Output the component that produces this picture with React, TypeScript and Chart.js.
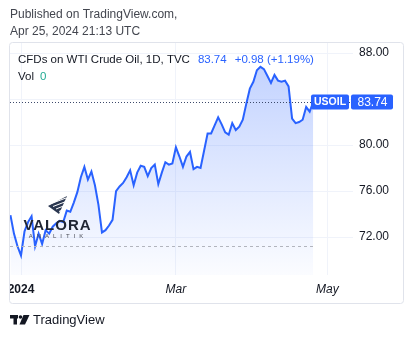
import React, { useEffect, useRef } from "react";
import { Chart, registerables } from "chart.js";
Chart.register(...registerables);

// ---- data ----
const startDate = "2023-12-27"; // first trading day shown
const closes = [
  73.9, 72.3, 71.2, 70.4, 72.5, 73.3, 73.8, 71.2, 72.3, 71.4,
  72.6, 72.3, 72.9, 73.2, 73.4, 73.3, 74.3, 74.2, 75.0, 75.9,
  77.2, 78.1, 77.0, 77.7, 76.5, 74.8, 72.4, 72.6, 73.0, 73.5,
  76.0, 76.4, 76.7, 77.2, 77.8, 76.5, 77.6, 78.2, 78.1, 77.3,
  78.0, 78.3, 76.6, 77.6, 78.5, 78.3, 78.4, 79.8, 79.0, 78.1,
  79.0, 79.4, 77.9, 78.1, 78.0, 79.5, 81.0, 81.0, 81.7, 82.4,
  81.8, 81.1, 80.9, 81.9, 81.3, 81.6, 82.2, 83.6, 84.9, 85.5,
  86.5, 86.8, 86.6, 86.0, 85.4, 86.1, 85.6, 85.5, 85.6, 85.1,
  82.3, 81.9, 82.0, 82.2, 83.3, 82.9, 83.74,
];
const tickDates = ["2024-01-01", "2024-03-01", "2024-05-01"];
const tickLabels = ["2024", "Mar", "May"];
const priceTicks = [72, 76, 80, 84, 88];
const hiddenPriceTick = 84; // covered by last-price label
const lastPrice = 83.74;
const changeText = "+0.98 (+1.19%)";
const refLevel = 71.2;
const symbol = "USOIL";
const title = "CFDs on WTI Crude Oil, 1D, TVC";
const published = ["Published on TradingView.com,", "Apr 25, 2024 21:13 UTC"];
const volLabel = "Vol";
const volValue = "0";
const slotCount = 98; // trading-day slots on the time axis

function weekdayList(start: string, n: number): string[] {
  const out: string[] = [];
  const d = new Date(start + "T00:00:00Z");
  while (out.length < n) {
    const wd = d.getUTCDay();
    if (wd !== 0 && wd !== 6) out.push(d.toISOString().slice(0, 10));
    d.setUTCDate(d.getUTCDate() + 1);
  }
  return out;
}
const dates = weekdayList(startDate, slotCount);
const tickIdx = tickDates.map((t) => dates.indexOf(t));

const FONT = "'Liberation Sans', Arial, sans-serif";
const BLUE = "#2962ff";
const TEXT = "#131722";

export default function App() {
  const ref = useRef<HTMLCanvasElement | null>(null);
  useEffect(() => {
    document.body.style.margin = "0";
    const canvas = ref.current!;
    const decor = {
      id: "decor",
      beforeDraw(chart: any) {
        const c = chart.ctx;
        c.save();
        c.fillStyle = "#ffffff";
        c.fillRect(0, 0, chart.width, chart.height);
        c.fillStyle = "#43464f";
        c.font = `12px ${FONT}`;
        c.textBaseline = "middle";
        c.fillText(published[0], 10, 15);
        c.fillText(published[1], 10, 32);
        c.restore();
      },
      afterDatasetsDraw(chart: any) {
        const c = chart.ctx;
        const xs = chart.scales.x;
        const ys = chart.scales.y;
        const area = chart.chartArea;
        const lastX = xs.getPixelForValue(closes.length - 1);
        c.save();
        // reference dashed line
        const ry = Math.round(ys.getPixelForValue(refLevel)) + 0.5;
        c.strokeStyle = "#b2b5be";
        c.lineWidth = 1;
        c.setLineDash([3, 3]);
        c.beginPath();
        c.moveTo(area.left, ry);
        c.lineTo(lastX + 2, ry);
        c.stroke();
        // last price dotted line
        const py = Math.round(ys.getPixelForValue(lastPrice)) + 0.5;
        c.strokeStyle = "#3d4a6b";
        c.setLineDash([1, 2]);
        c.beginPath();
        c.moveTo(area.left, py);
        c.lineTo(area.right, py);
        c.stroke();
        c.setLineDash([]);

        // watermark logo
        c.fillStyle = "#2b3750";
        c.beginPath();
        c.moveTo(48, 206);
        c.lineTo(67, 196);
        c.lineTo(59, 214);
        c.closePath();
        c.fill();
        c.strokeStyle = "#ffffff";
        c.lineWidth = 1;
        for (let k = 0; k < 4; k++) {
          c.beginPath();
          c.moveTo(50 + k * 3, 204 + k * 2.5);
          c.lineTo(66, 198 + k * 3.5);
          c.stroke();
        }
        c.fillStyle = "#1f2533";
        c.font = `bold 15px ${FONT}`;
        c.textAlign = "center";
        c.textBaseline = "middle";
        (c as any).letterSpacing = "1px";
        c.fillText("VALORA", 57.5, 226);
        c.font = `6px ${FONT}`;
        (c as any).letterSpacing = "4px";
        c.fillStyle = "#4a4d57";
        c.fillText("ANALITIK", 58, 236.5);
        (c as any).letterSpacing = "0px";
        c.restore();
      },
      afterDraw(chart: any) {
        const c = chart.ctx;
        const ys = chart.scales.y;
        const area = chart.chartArea;
        c.save();
        // mask outside the frame
        c.fillStyle = "#ffffff";
        c.fillRect(0, 42, 9, 262);
        // frame
        c.strokeStyle = "#e0e3eb";
        c.lineWidth = 1;
        c.beginPath();
        (c as any).roundRect(9.5, 42.5, 394, 261, 3);
        c.stroke();

        // last price labels
        const py = ys.getPixelForValue(lastPrice);
        c.fillStyle = BLUE;
        c.beginPath();
        (c as any).roundRect(311, py - 7.5, 38, 15, 2);
        c.fill();
        c.beginPath();
        (c as any).roundRect(351, py - 7.5, 42, 15, 2);
        c.fill();
        c.fillStyle = "#ffffff";
        c.textBaseline = "middle";
        c.textAlign = "center";
        c.font = `bold 10.5px ${FONT}`;
        c.fillText(symbol, 330, py + 0.5);
        c.font = `12px ${FONT}`;
        c.fillText(lastPrice.toFixed(2), 372.5, py + 0.5);

        // legend
        c.textAlign = "left";
        c.font = `11.5px ${FONT}`;
        c.fillStyle = TEXT;
        c.fillText(title, 18, 60);
        let x = 18 + c.measureText(title).width + 8;
        c.fillStyle = BLUE;
        const pTxt = lastPrice.toFixed(2);
        c.fillText(pTxt, x, 60);
        x += c.measureText(pTxt).width + 8;
        c.fillText(changeText, x, 60);
        c.fillStyle = TEXT;
        c.fillText(volLabel, 18, 77);
        c.fillStyle = "#22ab94";
        c.fillText(volValue, 18 + c.measureText(volLabel).width + 6, 77);

        // bottom TradingView logo
        c.fillStyle = TEXT;
        c.fillRect(10, 315, 8, 3.5);
        c.fillRect(13.5, 315, 3.5, 9.5);
        c.beginPath();
        c.arc(20.5, 317, 1.8, 0, Math.PI * 2);
        c.fill();
        c.beginPath();
        c.moveTo(23.5, 315);
        c.lineTo(29.5, 315);
        c.lineTo(25, 324.5);
        c.lineTo(19.5, 324.5);
        c.closePath();
        c.fill();
        c.font = `13px ${FONT}`;
        c.fillText("TradingView", 33, 320.5);
        c.restore();
      },
    };

    const chart = new Chart(canvas, {
      type: "line",
      data: {
        datasets: [
          {
            data: closes.map((v, i) => ({ x: i, y: v })),
            borderColor: BLUE,
            borderWidth: 2,
            pointRadius: 0,
            tension: 0,
            fill: "start",
            backgroundColor: (ctx: any) => {
              const ch = ctx.chart;
              const a = ch.chartArea;
              if (!a) return "rgba(41,98,255,0.15)";
              const top = ch.scales.y.getPixelForValue(Math.max(...closes));
              const g = ch.ctx.createLinearGradient(0, top, 0, a.bottom);
              g.addColorStop(0, "rgba(41,98,255,0.28)");
              g.addColorStop(1, "rgba(41,98,255,0.02)");
              return g;
            },
          },
        ],
      },
      options: {
        responsive: false,
        animation: false,
        devicePixelRatio: 1,
        layout: { padding: { left: 10, top: 43, right: 10, bottom: 35 } },
        plugins: { legend: { display: false }, tooltip: { enabled: false } },
        scales: {
          x: {
            type: "linear",
            min: -0.125,
            max: 97.3,
            afterBuildTicks: (s: any) => {
              s.ticks = tickIdx.map((v) => ({ value: v }));
            },
            afterFit: (s: any) => {
              s.height = 28;
            },
            grid: { color: "#f0f3fa", drawTicks: false },
            border: { display: false },
            ticks: {
              padding: 7,
              color: TEXT,
              maxRotation: 0,
              autoSkip: false,
              font: (ctx: any) =>
                ctx.tick && ctx.tick.value === tickIdx[0]
                  ? { family: FONT, size: 12, weight: "bold" }
                  : { family: FONT, size: 12, style: "italic" },
              callback: (v: any) => {
                const k = tickIdx.indexOf(Number(v));
                return k >= 0 ? tickLabels[k] : "";
              },
            },
          },
          y: {
            position: "right",
            min: 68.7,
            max: 88.87,
            afterBuildTicks: (s: any) => {
              s.ticks = priceTicks.map((v) => ({ value: v }));
            },
            afterFit: (s: any) => {
              s.width = 50;
            },
            grid: { color: "#f0f3fa", drawTicks: false },
            border: { display: false },
            ticks: {
              padding: 6,
              color: TEXT,
              font: { family: FONT, size: 12 },
              callback: (v: any) =>
                Number(v) === hiddenPriceTick ? "" : Number(v).toFixed(2),
            },
          },
        },
      },
      plugins: [decor],
    } as any);
    return () => chart.destroy();
  }, []);
  return (
    <div style={{ width: 413, height: 338 }}>
      <canvas ref={ref} width={413} height={338} style={{ display: "block" }} />
    </div>
  );
}
